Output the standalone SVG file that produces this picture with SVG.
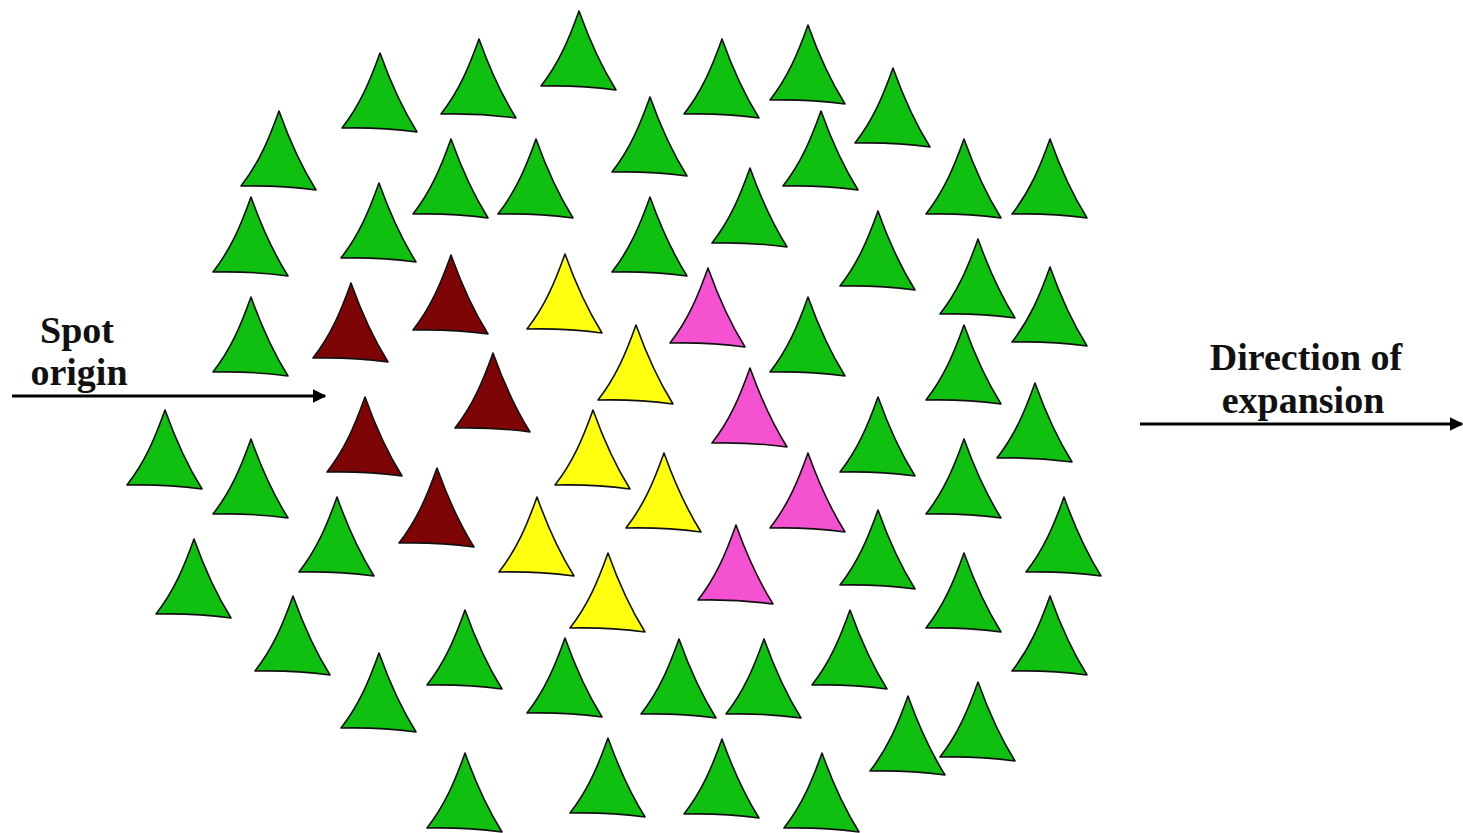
<svg xmlns="http://www.w3.org/2000/svg" xmlns:xlink="http://www.w3.org/1999/xlink" width="1463" height="833" viewBox="0 0 1463 833">
<style>
.g{fill:#10c010}
.r{fill:#7d0505}
.y{fill:#ffff10}
.m{fill:#f552d2}
.t{stroke:#111;stroke-width:1.6;stroke-linejoin:round}
.lbl{font-family:"Liberation Serif","Times New Roman",serif;font-weight:bold;font-size:38px;fill:#111}
.arr{stroke:#000;stroke-width:3;fill:none}
</style>
<defs>
<path id="tri" d="M0,0 C-10,28 -20,52 -38,75 Q0,74 37,79 C22,55 10,28 0,0 Z"/>
<marker id="ah" viewBox="0 0 10 10" refX="9" refY="5" markerWidth="4.5" markerHeight="4.5" markerUnits="strokeWidth" orient="auto"><path d="M0,0 L10,5 L0,10 Z" fill="#000"/></marker>
</defs>
<rect width="1463" height="833" fill="#fff"/>
<g id="triangles">
<g id="g1"><use href="#tri" class="g t" x="579" y="11"/></g>
<g id="g2"><use href="#tri" class="g t" x="380" y="53"/></g>
<g id="g3"><use href="#tri" class="g t" x="479" y="39"/></g>
<g id="g4"><use href="#tri" class="g t" x="722" y="39"/></g>
<g id="g5"><use href="#tri" class="g t" x="808" y="25"/></g>
<g id="g6"><use href="#tri" class="g t" x="893" y="68"/></g>
<g id="g7"><use href="#tri" class="g t" x="279" y="111"/></g>
<g id="g8"><use href="#tri" class="g t" x="650" y="97"/></g>
<g id="g9"><use href="#tri" class="g t" x="821" y="111"/></g>
<g id="g10"><use href="#tri" class="g t" x="451" y="139"/></g>
<g id="g11"><use href="#tri" class="g t" x="536" y="139"/></g>
<g id="g12"><use href="#tri" class="g t" x="964" y="139"/></g>
<g id="g13"><use href="#tri" class="g t" x="1050" y="139"/></g>
<g id="g14"><use href="#tri" class="g t" x="251" y="197"/></g>
<g id="g15"><use href="#tri" class="g t" x="379" y="183"/></g>
<g id="g16"><use href="#tri" class="g t" x="650" y="197"/></g>
<g id="g17"><use href="#tri" class="g t" x="750" y="168"/></g>
<g id="g18"><use href="#tri" class="g t" x="878" y="211"/></g>
<g id="g19"><use href="#tri" class="g t" x="978" y="239"/></g>
<g id="g20"><use href="#tri" class="g t" x="251" y="297"/></g>
<g id="g21"><use href="#tri" class="g t" x="1050" y="267"/></g>
<g id="g22"><use href="#tri" class="g t" x="808" y="297"/></g>
<g id="g23"><use href="#tri" class="g t" x="964" y="325"/></g>
<g id="g24"><use href="#tri" class="g t" x="1035" y="383"/></g>
<g id="g25"><use href="#tri" class="g t" x="165" y="410"/></g>
<g id="g26"><use href="#tri" class="g t" x="251" y="439"/></g>
<g id="g27"><use href="#tri" class="g t" x="878" y="397"/></g>
<g id="g28"><use href="#tri" class="g t" x="964" y="439"/></g>
<g id="g29"><use href="#tri" class="g t" x="337" y="497"/></g>
<g id="g30"><use href="#tri" class="g t" x="194" y="539"/></g>
<g id="g31"><use href="#tri" class="g t" x="1064" y="497"/></g>
<g id="g32"><use href="#tri" class="g t" x="878" y="510"/></g>
<g id="g33"><use href="#tri" class="g t" x="964" y="553"/></g>
<g id="g34"><use href="#tri" class="g t" x="293" y="596"/></g>
<g id="g35"><use href="#tri" class="g t" x="465" y="610"/></g>
<g id="g36"><use href="#tri" class="g t" x="1050" y="596"/></g>
<g id="g37"><use href="#tri" class="g t" x="850" y="610"/></g>
<g id="g38"><use href="#tri" class="g t" x="379" y="653"/></g>
<g id="g39"><use href="#tri" class="g t" x="565" y="638"/></g>
<g id="g40"><use href="#tri" class="g t" x="679" y="639"/></g>
<g id="g41"><use href="#tri" class="g t" x="764" y="639"/></g>
<g id="g42"><use href="#tri" class="g t" x="908" y="696"/></g>
<g id="g43"><use href="#tri" class="g t" x="978" y="682"/></g>
<g id="g44"><use href="#tri" class="g t" x="465" y="753"/></g>
<g id="g45"><use href="#tri" class="g t" x="608" y="738"/></g>
<g id="g46"><use href="#tri" class="g t" x="722" y="739"/></g>
<g id="g47"><use href="#tri" class="g t" x="822" y="753"/></g>
<g id="r1"><use href="#tri" class="r t" x="351" y="283"/></g>
<g id="r2"><use href="#tri" class="r t" x="451" y="255"/></g>
<g id="r3"><use href="#tri" class="r t" x="493" y="353"/></g>
<g id="r4"><use href="#tri" class="r t" x="365" y="397"/></g>
<g id="r5"><use href="#tri" class="r t" x="437" y="468"/></g>
<g id="y1"><use href="#tri" class="y t" x="565" y="254"/></g>
<g id="y2"><use href="#tri" class="y t" x="636" y="325"/></g>
<g id="y3"><use href="#tri" class="y t" x="593" y="410"/></g>
<g id="y4"><use href="#tri" class="y t" x="664" y="453"/></g>
<g id="y5"><use href="#tri" class="y t" x="537" y="497"/></g>
<g id="y6"><use href="#tri" class="y t" x="608" y="553"/></g>
<g id="m1"><use href="#tri" class="m t" x="708" y="268"/></g>
<g id="m2"><use href="#tri" class="m t" x="750" y="368"/></g>
<g id="m3"><use href="#tri" class="m t" x="808" y="453"/></g>
<g id="m4"><use href="#tri" class="m t" x="736" y="525"/></g>
</g>
<g id="label-spot">
<text class="lbl" x="77" y="343" text-anchor="middle">Spot</text>
<text class="lbl" x="79" y="385" text-anchor="middle">origin</text>
</g>
<g id="label-direction">
<text class="lbl" x="1306" y="370" text-anchor="middle">Direction of</text>
<text class="lbl" x="1303" y="413" text-anchor="middle">expansion</text>
</g>
<g id="connectors">
<line class="arr" x1="12" y1="396" x2="325" y2="396" marker-end="url(#ah)"/>
<line class="arr" x1="1140" y1="424" x2="1462" y2="424" marker-end="url(#ah)"/>
</g>
</svg>
